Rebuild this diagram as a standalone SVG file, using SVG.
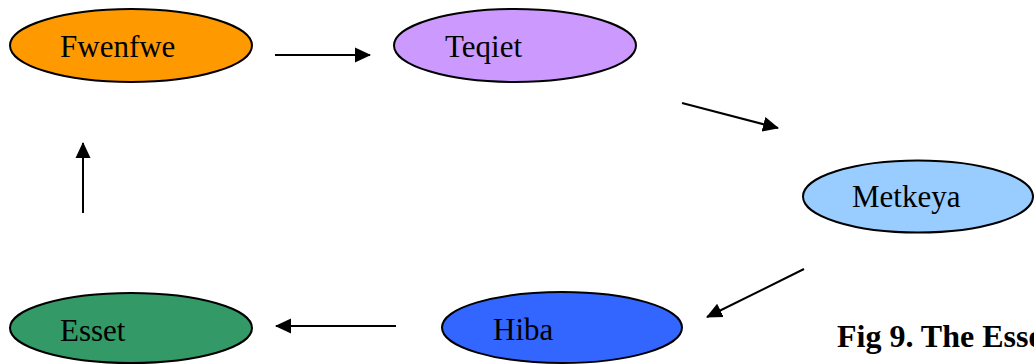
<svg xmlns="http://www.w3.org/2000/svg" width="1034" height="364" viewBox="0 0 1034 364">
<style>
.node ellipse{stroke:#000;stroke-width:2}
.node text{font-family:"Liberation Serif","Times New Roman",serif;font-size:31px;fill:#000}
.edge{stroke:#000;stroke-width:2;fill:none;marker-end:url(#ah)}
.cap{font-family:"Liberation Serif","Times New Roman",serif;font-size:32px;font-weight:bold;fill:#000}
</style>
<defs>
<marker id="ah" markerUnits="userSpaceOnUse" markerWidth="16" markerHeight="16" viewBox="0 0 16 16" refX="15" refY="8" orient="auto">
<path d="M0,0.5 L16,8 L0,15.5 Z" fill="#000"/>
</marker>
</defs>
<rect width="1034" height="364" fill="#fff"/>
<g id="edges">
<line class="edge" x1="275" y1="55" x2="370" y2="55"/>
<line class="edge" x1="682" y1="103" x2="778" y2="128"/>
<line class="edge" x1="804" y1="269" x2="707" y2="317"/>
<line class="edge" x1="396" y1="326" x2="276" y2="326"/>
<line class="edge" x1="83" y1="213" x2="83" y2="143"/>
</g>
<g id="n-fwenfwe" class="node">
<ellipse cx="131" cy="45.5" rx="121" ry="36.5" fill="#FF9900"/>
<text x="60" y="57">Fwenfwe</text>
</g>
<g id="n-teqiet" class="node">
<ellipse cx="515" cy="45.5" rx="121" ry="36.5" fill="#CC99FF"/>
<text x="445" y="57">Teqiet</text>
</g>
<g id="n-metkeya" class="node">
<ellipse cx="918" cy="196.5" rx="115" ry="36" fill="#99CCFF"/>
<text x="852" y="207">Metkeya</text>
</g>
<g id="n-hiba" class="node">
<ellipse cx="562" cy="327.5" rx="120" ry="35.5" fill="#3366FF"/>
<text x="493" y="340">Hiba</text>
</g>
<g id="n-esset" class="node">
<ellipse cx="131" cy="328" rx="121" ry="35" fill="#339966"/>
<text x="60" y="341">Esset</text>
</g>
<text class="cap" x="837" y="347">Fig 9. The Esse</text>
</svg>
